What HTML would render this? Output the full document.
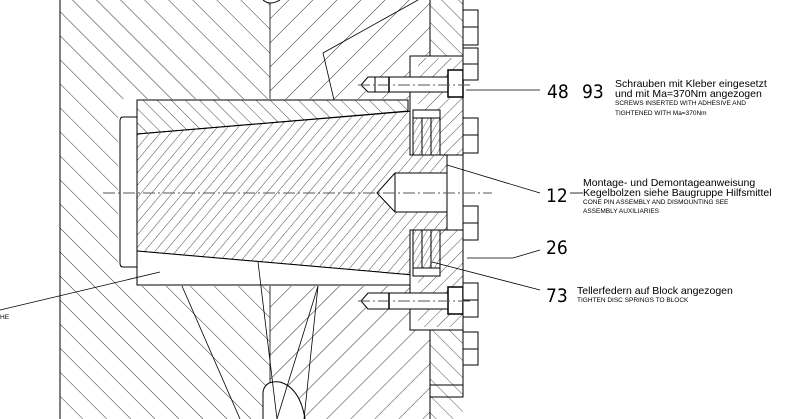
<!DOCTYPE html>
<html><head><meta charset="utf-8"><style>
html,body{margin:0;padding:0;background:#fff;}
svg{display:block;}
text{font-family:"Liberation Sans",sans-serif;fill:#000;}
.n{font-family:"DejaVu Sans Condensed","Liberation Sans",sans-serif;font-size:19px;}
.t{font-size:10.5px;}
.s{font-size:6.5px;}
</style></head><body>
<svg width="800" height="419" viewBox="0 0 800 419">
<defs>
<pattern id="hA" width="17" height="17" patternUnits="userSpaceOnUse" patternTransform="rotate(-45)"><line x1="0" y1="0" x2="0" y2="17" stroke="#000" stroke-width="0.8"/></pattern>
<pattern id="hB" width="17" height="17" patternUnits="userSpaceOnUse" patternTransform="rotate(45)"><line x1="0" y1="0" x2="0" y2="17" stroke="#000" stroke-width="0.8"/></pattern>
<pattern id="hC" width="8" height="8" patternUnits="userSpaceOnUse" patternTransform="rotate(40)"><line x1="0" y1="0" x2="0" y2="8" stroke="#000" stroke-width="0.7"/></pattern>
<pattern id="hD" width="10" height="10" patternUnits="userSpaceOnUse" patternTransform="rotate(-45)"><line x1="0" y1="0" x2="0" y2="10" stroke="#000" stroke-width="0.7"/></pattern>
<pattern id="hG" width="9" height="9" patternUnits="userSpaceOnUse" patternTransform="rotate(45)"><line x1="0" y1="0" x2="0" y2="9" stroke="#000" stroke-width="0.7"/></pattern>
<pattern id="hE" width="12" height="12" patternUnits="userSpaceOnUse" patternTransform="rotate(-45)"><line x1="0" y1="0" x2="0" y2="12" stroke="#000" stroke-width="0.7"/></pattern>
<pattern id="hF" width="5" height="5" patternUnits="userSpaceOnUse" patternTransform="rotate(30)"><line x1="0" y1="0" x2="0" y2="5" stroke="#000" stroke-width="0.6"/></pattern>
</defs>
<g>
<rect x="60" y="0" width="210" height="419" fill="url(#hA)"/>
<rect x="270" y="0" width="160" height="419" fill="url(#hB)"/>
<rect x="430" y="0" width="33" height="419" fill="url(#hE)"/>
<line x1="60" y1="0" x2="60" y2="419" stroke="#000"/>
<line x1="270" y1="0" x2="270" y2="419" stroke="#000" stroke-width="0.8"/>
<line x1="430" y1="0" x2="430" y2="419" stroke="#000"/>
<line x1="463" y1="0" x2="463" y2="397" stroke="#000"/>
<polyline points="430,385 463,385 463,397 430,397" fill="none" stroke="#000"/>
</g>
<g>
<rect x="118" y="99" width="330" height="187" fill="#fff"/>
<path d="M123,117 H137 V267 H123 Q120,267 120,263 V121 Q120,117 123,117 Z" fill="#fff" stroke="#000"/>
<path d="M137,100 H408 V111 L137,134 Z" fill="url(#hD)" stroke="#000"/>
<path d="M137,134 L413,111 V155 H447 V230 H413 V275 L137,251 Z" fill="url(#hC)" stroke="#000"/>
<path d="M137,251 L413,275 V285 H137 Z" fill="#fff" stroke="#000"/>
<path d="M395,173 H447 V212 H395 L377,193 Z" fill="#fff" stroke="#000"/>
<line x1="395" y1="173" x2="395" y2="212" stroke="#000"/>
<rect x="447" y="155" width="16" height="75" fill="#fff" stroke="#000"/>
</g>
<g>
<rect x="410" y="56" width="53" height="99" fill="#fff" stroke="#000"/>
<rect x="418" y="58" width="45" height="97" fill="url(#hG)"/>
<rect x="410" y="230" width="53" height="100" fill="#fff" stroke="#000"/>
<rect x="418" y="230" width="45" height="97" fill="url(#hG)"/>
<rect x="413" y="118" width="27" height="37" fill="#fff"/>
<rect x="413" y="118" width="27" height="37" fill="url(#hF)" stroke="#000"/>
<rect x="413" y="230" width="27" height="38" fill="#fff"/>
<rect x="413" y="230" width="27" height="38" fill="url(#hF)" stroke="#000"/>
<line x1="422" y1="118" x2="422" y2="155" stroke="#000"/><line x1="431" y1="118" x2="431" y2="155" stroke="#000"/>
<line x1="422" y1="230" x2="422" y2="268" stroke="#000"/><line x1="431" y1="230" x2="431" y2="268" stroke="#000"/>
<rect x="413" y="110" width="27" height="8" fill="#fff" stroke="#000"/>
<rect x="413" y="268" width="27" height="8" fill="#fff" stroke="#000"/>
<line x1="410" y1="155" x2="463" y2="155" stroke="#000"/>
<line x1="410" y1="230" x2="463" y2="230" stroke="#000"/>
</g>
<g>
<path d="M368,77 H448 V92 H368 L361,85 Z" fill="#fff" stroke="#000"/>
<rect x="448" y="70" width="15" height="27" fill="#fff" stroke="#000" stroke-width="1.5"/>
<line x1="375" y1="77" x2="375" y2="92" stroke="#000"/><line x1="389" y1="77" x2="389" y2="92" stroke="#000" stroke-width="1.5"/>
<path d="M368,293 H448 V309 H368 L361,301 Z" fill="#fff" stroke="#000"/>
<rect x="448" y="287" width="15" height="27" fill="#fff" stroke="#000" stroke-width="1.5"/>
<line x1="389" y1="293" x2="389" y2="309" stroke="#000" stroke-width="1.5"/>
</g>
<g fill="#fff" stroke="#000">
<rect x="463" y="10" width="15" height="35"/><line x1="463" y1="27" x2="478" y2="27"/>
<rect x="463" y="48" width="15" height="32"/><line x1="463" y1="64" x2="478" y2="64"/>
<rect x="463" y="118" width="15" height="35"/><line x1="463" y1="135" x2="478" y2="135"/>
<rect x="463" y="206" width="15" height="34"/><line x1="463" y1="223" x2="478" y2="223"/>
<rect x="463" y="283" width="15" height="34"/><line x1="463" y1="300" x2="478" y2="300"/>
<rect x="463" y="332" width="15" height="33"/><line x1="463" y1="349" x2="478" y2="349"/>
</g>
<g stroke="#555" stroke-dasharray="12,3,2,3" stroke-width="1">
<line x1="103" y1="193" x2="492" y2="193"/>
<line x1="358" y1="85" x2="470" y2="85"/>
<line x1="358" y1="301" x2="470" y2="301"/>
</g>
<g fill="#fff" stroke="#000">
<path d="M263,0 Q270,6 280,0"/>
<path d="M263,419 V392 Q265,380 280,382 Q300,388 305,419"/>
</g>
<g stroke="#000" stroke-width="0.8" fill="none">
<polyline points="418,0 323,53 334,100"/>
<line x1="0" y1="310" x2="160" y2="272"/>
<line x1="240" y1="419" x2="182" y2="286"/>
<line x1="277" y1="419" x2="258" y2="262"/>
<line x1="277" y1="419" x2="318" y2="286"/>
<line x1="304" y1="419" x2="318" y2="286"/>
<line x1="540" y1="90" x2="466" y2="90"/>
<polyline points="540,193 447,165"/>
<line x1="570" y1="193" x2="583" y2="193"/>
<polyline points="540,250 513,258 467,258"/>
<line x1="540" y1="290" x2="432" y2="262"/>
</g>
<g>
<text class="n" x="547" y="98">48</text>
<text class="n" x="582" y="98">93</text>
<text class="t" x="615" y="87">Schrauben mit Kleber eingesetzt</text>
<text class="t" x="615" y="97">und mit Ma=370Nm angezogen</text>
<text class="s" x="615" y="105">SCREWS INSERTED WITH ADHESIVE AND</text>
<text class="s" x="615" y="115">TIGHTENED WITH Ma=370Nm</text>
<text class="n" x="546" y="202">12</text>
<text class="t" x="583" y="186">Montage- und Demontageanweisung</text>
<text class="t" x="583" y="196">Kegelbolzen siehe Baugruppe Hilfsmittel</text>
<text class="s" x="583" y="204">CONE PIN ASSEMBLY AND DISMOUNTING SEE</text>
<text class="s" x="583" y="213">ASSEMBLY AUXILIARIES</text>
<text class="n" x="546" y="254">26</text>
<text class="n" x="546" y="302">73</text>
<text class="t" x="577" y="294">Tellerfedern auf Block angezogen</text>
<text class="s" x="577" y="302">TIGHTEN DISC SPRINGS TO BLOCK</text>
<text class="s" x="0" y="319">HE</text>
</g>
</svg>
</body></html>
